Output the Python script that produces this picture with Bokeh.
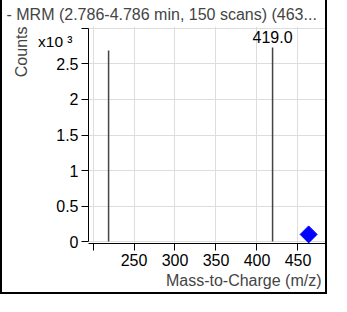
import math
from bokeh.plotting import figure
from bokeh.models import Range1d, FixedTicker, Label, ColumnDataSource, Title, LinearAxis
from bokeh.embed import file_html
from bokeh.resources import INLINE

# ---- data ----
title_text = "- MRM (2.786-4.786 min, 150 scans) (463..."
peak_mz = [219.0, 419.0]
peak_kcounts = [2.69, 2.733]
peak_label_text = "419.0"
peak_label_mz = 419.0
peak_label_kcounts = 2.733
precursor_mz = [463.0]
precursor_kcounts = [0.1]
x_ticks = [200, 250, 300, 350, 400, 450]
x_tick_labels = ["", "250", "300", "350", "400", "450"]
y_ticks = [0, 0.5, 1, 1.5, 2, 2.5, 3]
y_tick_labels = ["0", "0.5", "1", "1.5", "2", "2.5", ""]
y_axis_title = "Counts"
y_scale_text = "x10 \u00b3"
y_scale_pos = [2.82]
x_axis_title = "Mass-to-Charge (m/z)"

FONT = "Liberation Sans"
FS = "16px"
W, H = 327, 294
L, R, T, B = 86, 2, 26, 51

p = figure(width=W, height=H, output_backend="svg", toolbar_location=None,
           x_range=Range1d(194.5, 486), y_range=Range1d(-0.028, 3.028),
           min_border_left=L, min_border_right=R, min_border_top=T, min_border_bottom=B)
p.outline_line_color = None
p.background_fill_color = "white"
p.border_fill_color = "white"
p.styles = {"border-left": "2px solid black", "border-right": "2px solid black",
            "border-bottom": "2px solid black"}

for ax, ticks, labels in ((p.xaxis[0], x_ticks, x_tick_labels), (p.yaxis[0], y_ticks, y_tick_labels)):
    ax.ticker = FixedTicker(ticks=ticks)
    ax.major_label_overrides = {t: s for t, s in zip(ticks, labels)}
    ax.major_tick_in = 0
    ax.major_tick_out = 7
    ax.minor_tick_line_color = None
    ax.axis_line_color = "black"
    ax.major_tick_line_color = "black"
    ax.major_label_text_font = FONT
    ax.major_label_text_font_size = FS
    ax.major_label_text_color = "black"
p.xaxis.major_label_standoff = 3
p.yaxis.major_label_standoff = 3
p.yaxis.bounds = (0, 3)

# scale factor "x10^3" shown as a label-only axis
ax2 = LinearAxis(ticker=FixedTicker(ticks=y_scale_pos),
                 major_label_overrides={y_scale_pos[0]: y_scale_text},
                 axis_line_color=None, major_tick_line_color=None, minor_tick_line_color=None,
                 major_tick_in=0, major_tick_out=0, major_label_standoff=-19,
                 major_label_text_font=FONT, major_label_text_font_size="15.5px",
                 major_label_text_color="black")
p.add_layout(ax2, "left")

p.xgrid.ticker = FixedTicker(ticks=x_ticks)
p.ygrid.ticker = FixedTicker(ticks=y_ticks)
p.grid.grid_line_color = "#dddddd"
p.grid.grid_line_width = 1

src = ColumnDataSource(dict(x=peak_mz, y=peak_kcounts, y0=[0] * len(peak_mz)))
p.segment(x0="x", y0="y0", x1="x", y1="y", source=src, line_color="#444444", line_width=1.5)

p.scatter(precursor_mz, precursor_kcounts, marker="square", angle=math.pi / 4,
          size=12, fill_color="#0000ff", line_color="#0000ff")

p.title.text = title_text
p.title.align = "left"
p.title.offset = -82
p.title.text_font = FONT
p.title.text_font_size = FS
p.title.text_font_style = "normal"
p.title.standoff = 7

p.add_layout(Title(text=y_axis_title, align="right", text_font=FONT, text_font_size=FS,
                   text_font_style="normal", standoff=11), "left")
p.add_layout(Title(text=x_axis_title, align="right", offset=6, text_font=FONT,
                   text_font_size=FS, text_font_style="normal", standoff=2), "below")

p.add_layout(Label(text=peak_label_text, x=peak_label_mz, y=peak_label_kcounts, y_offset=4,
                   text_font=FONT, text_font_size=FS, text_align="center",
                   text_baseline="bottom", text_color="black"))

open("out.html", "w").write(file_html(p, INLINE))
